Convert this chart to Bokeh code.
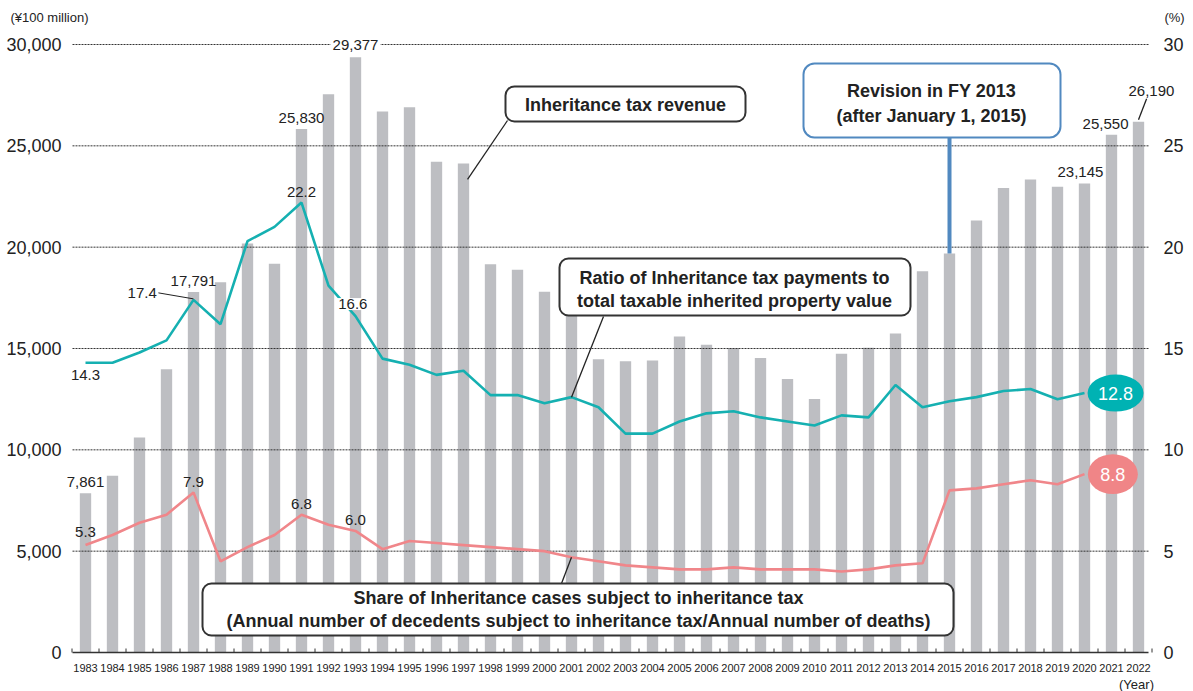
from bokeh.plotting import figure
from bokeh.models import Range1d, Label, BoxAnnotation
from bokeh.embed import file_html
from bokeh.resources import INLINE

# ---------------- data ----------------
years = list(range(1983, 2023))
revenue = [7861, 8724, 10605, 13980, 17791, 18275, 20177, 19180, 25830, 27540,
           29377, 26699, 26903, 24218, 24129, 19156, 18882, 17803, 16745, 14473,
           14366, 14402, 15597, 15186, 15026, 14532, 13500, 12504, 14744, 15039,
           15744, 18812, 19684, 21314, 22920, 23333, 22981, 23145, 25550, 26190]

line_years = list(range(1983, 2021))
burden_ratio = [14.3, 14.3, 14.8, 15.4, 17.4, 16.2, 20.3, 21.0, 22.2, 18.1,
                16.6, 14.5, 14.2, 13.7, 13.9, 12.7, 12.7, 12.3, 12.6, 12.1,
                10.8, 10.8, 11.4, 11.8, 11.9, 11.6, 11.4, 11.2, 11.7, 11.6,
                13.2, 12.1, 12.4, 12.6, 12.9, 13.0, 12.5, 12.8]
taxed_share = [5.3, 5.8, 6.4, 6.8, 7.9, 4.5, 5.2, 5.8, 6.8, 6.3,
               6.0, 5.1, 5.5, 5.4, 5.3, 5.2, 5.1, 5.0, 4.7, 4.5,
               4.3, 4.2, 4.1, 4.1, 4.2, 4.1, 4.1, 4.1, 4.0, 4.1,
               4.3, 4.4, 8.0, 8.1, 8.3, 8.5, 8.3, 8.8]

left_ticks = [0, 5000, 10000, 15000, 20000, 25000, 30000]
right_ticks = [0, 5, 10, 15, 20, 25, 30]

# ---------------- styles / layout ----------------
FONT = "Liberation Sans"
TXT = "#222222"
BAR = "#bdbec2"
TEAL = "#15b0b1"
TEAL_OVAL = "#00b2b3"
PINK = "#f0868a"
PINK_OVAL = "#f08587"
BLUE = "#5189c0"
GRID = "#333333"

W, H = 1193, 691
PAGE = 0                     # page offset of the canvas
X_FIRST = 85                 # page x of first category
PXY = 27.0                   # px per year
Y_ZERO = 652                 # page y of value 0
PXV = 608 / 30000            # px per revenue unit

x_start = years[0] + (PAGE - X_FIRST) / PXY
x_end = years[0] + (PAGE + W - X_FIRST) / PXY
y_start = (Y_ZERO - (PAGE + H)) / PXV
y_end = (Y_ZERO - PAGE) / PXV


def dx(px):      # page x -> data x (annotation placement)
    return years[0] + (px - X_FIRST) / PXY


def dy(py):      # page y -> revenue units (annotation placement)
    return (Y_ZERO - py) / PXV


def dp(py):      # page y -> percent units
    return dy(py) / 1000


def up(px):      # pixels -> revenue units
    return px / PXV


def upp(px):     # pixels -> percent units
    return px / PXV / 1000


p = figure(width=W, height=H, x_range=Range1d(x_start, x_end),
           y_range=Range1d(y_start, y_end), x_axis_type=None, y_axis_type=None,
           output_backend="svg", toolbar_location=None,
           min_border_left=0, min_border_right=0, min_border_top=0, min_border_bottom=0,
           outline_line_color=None, background_fill_color="white",
           border_fill_color="white")
p.extra_y_ranges = {"pct": Range1d(y_start / 1000, y_end / 1000)}
p.grid.visible = False

# bars
p.vbar(x=years, top=revenue, width=0.42, fill_color=BAR, line_color=None)

# grid lines (dotted) between plot edges
gx0, gx1 = dx(72), dx(1148)
p.segment(x0=[gx0] * 6, x1=[gx1] * 6, y0=left_ticks[1:], y1=left_ticks[1:],
          line_color=GRID, line_width=1, line_dash="2 1")

# x axis line + small inner ticks between categories
p.segment(x0=[gx0], x1=[gx1], y0=[0], y1=[0], line_color="#333333", line_width=1.5)
bounds = [y + 0.5 for y in range(years[0] - 1, years[-1] + 1)]
p.segment(x0=bounds, x1=bounds, y0=[0] * len(bounds), y1=[up(4)] * len(bounds),
          line_color="#333333", line_width=1)

# lines
p.line(line_years, burden_ratio, y_range_name="pct", line_color=TEAL, line_width=2.6)
p.line(line_years, taxed_share, y_range_name="pct", line_color=PINK, line_width=2.6)


def label(x, y, text, size="15px", bold=False, color=TXT, align="center",
          baseline="middle", bg=None, rng="default", pad=0):
    kw = dict(x=x, y=y, text=text, text_font=FONT, text_font_size=size,
              text_color=color, text_align=align, text_baseline=baseline,
              y_range_name=rng)
    if bold:
        kw["text_font_style"] = "bold"
    if bg:
        kw["background_fill_color"] = bg
        kw["padding"] = pad
    p.add_layout(Label(**kw))


def leader(x, y, rng="default", color="#222222", width=1.3):
    p.line(x, y, y_range_name=rng, line_color=color, line_width=width)


# axis tick labels
for t in left_ticks:
    label(dx(61), t, f"{t:,}", size="18px", align="right")
for t in right_ticks:
    label(dx(1163), t, f"{t}", size="18px", align="left", rng="pct")
for yr in years:
    label(yr, dy(667), str(yr), size="11px")

i = {y: k for k, y in enumerate(years)}
j = {y: k for k, y in enumerate(line_years)}

# revenue value labels
for yr, xo in [(1983, 0), (1987, 0), (1991, 0), (2020, -0.15), (2021, -0.22)]:
    label(yr + xo, revenue[i[yr]] + up(11), f"{revenue[i[yr]]:,}")
label(1993, revenue[i[1993]] + up(12), f"{revenue[i[1993]]:,}", bg="white", pad=2)
label(2022 + 0.48, revenue[i[2022]] + up(31), f"{revenue[i[2022]]:,}")
leader([2022, 2022 + 0.3], [revenue[i[2022]] + up(2), revenue[i[2022]] + up(23)])

# ratio labels
label(1983, burden_ratio[j[1983]] - upp(12), f"{burden_ratio[j[1983]]:.1f}", rng="pct")
label(1991, burden_ratio[j[1991]] + upp(11), f"{burden_ratio[j[1991]]:.1f}", rng="pct")
label(1993 - 0.1, burden_ratio[j[1993]] + upp(12), f"{burden_ratio[j[1993]]:.1f}",
      rng="pct", bg="white", pad=1)
label(1987 - 1.9, burden_ratio[j[1987]] + upp(7), f"{burden_ratio[j[1987]]:.1f}", rng="pct")
leader([1987 - 1.3, 1987], [burden_ratio[j[1987]] + upp(7), burden_ratio[j[1987]] + upp(1)],
       rng="pct", width=1)

# share labels
label(1983, taxed_share[j[1983]] + upp(13), f"{taxed_share[j[1983]]:.1f}", rng="pct")
for yr in (1987, 1991, 1993):
    label(yr, taxed_share[j[yr]] + upp(10.5), f"{taxed_share[j[yr]]:.1f}", rng="pct")

# end-value ovals
ox = line_years[-1] + 1.15
p.ellipse(x=[ox], y=[burden_ratio[-1]], width=56, height=37, width_units="screen",
          height_units="screen", y_range_name="pct", fill_color=TEAL_OVAL, line_color=None)
p.ellipse(x=[ox - 0.1], y=[taxed_share[-1]], width=50, height=40, width_units="screen",
          height_units="screen", y_range_name="pct", fill_color=PINK_OVAL, line_color=None)
label(ox, burden_ratio[-1], f"{burden_ratio[-1]:.1f}", size="18px", color="white", rng="pct")
label(ox - 0.1, taxed_share[-1], f"{taxed_share[-1]:.1f}", size="18px", color="white",
      rng="pct")

# callout leaders (inner ends anchored to data)
leader([dx(507), 1997 + 0.15], [dy(120), revenue[i[1997]] - up(16)])
leader([dx(603), 2001], [dp(316), burden_ratio[j[2001]]], rng="pct")
leader([dx(561), 2001], [dp(583), taxed_share[j[2001]]], rng="pct")
# revision marker line
p.line([2015, 2015], [dy(137), revenue[i[2015]]], line_color=BLUE, line_width=4)


def box(l, t, r, b, color="#333333", width=2, radius=9):
    p.add_layout(BoxAnnotation(left=dx(l), right=dx(r), top=dy(t), bottom=dy(b),
                               fill_color="white", fill_alpha=1, line_color=color,
                               line_alpha=1, line_width=width, border_radius=radius))


box(505, 86, 745, 121)
label(dx(625), dy(104), "Inheritance tax revenue", size="18px", bold=True)

box(559, 258, 910, 315)
label(dx(734), dy(277), "Ratio of Inheritance tax payments to", size="18px", bold=True)
label(dx(734), dy(300), "total taxable inherited property value", size="18px", bold=True)

box(202, 583, 953, 635)
label(dx(578), dy(597), "Share of Inheritance cases subject to inheritance tax",
      size="18px", bold=True)
label(dx(578), dy(620),
      "(Annual number of decedents subject to inheritance tax/Annual number of deaths)",
      size="18px", bold=True)

box(803, 63, 1060, 137, color=BLUE, width=2, radius=11)
label(dx(931), dy(90), "Revision in FY 2013", size="18px", bold=True)
label(dx(931), dy(115), "(after January 1, 2015)", size="18px", bold=True)

# unit labels
label(dx(10), dy(17), "(¥100 million)", size="13px", align="left")
label(dx(1174), dy(17), "(%)", size="13px")
label(dx(1136), dy(684), "(Year)", size="13px")

open("out.html", "w").write(file_html(p, INLINE))
